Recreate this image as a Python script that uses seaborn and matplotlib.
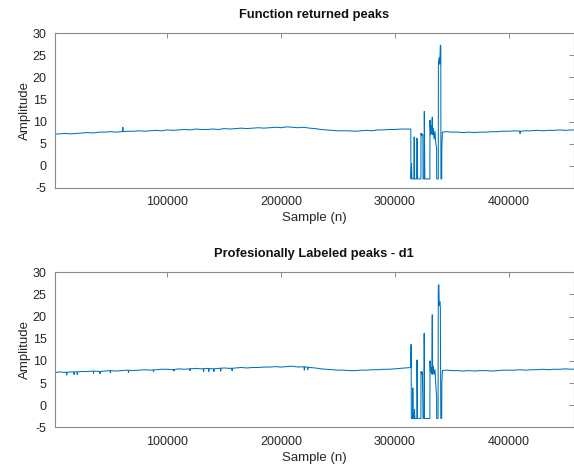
import numpy as np
import pandas as pd
import matplotlib
matplotlib.use("Agg")
import matplotlib.pyplot as plt
import seaborn as sns

# ---------------- data ----------------
# Baseline grid (sample index) before and after the burst region
pre_samples = np.arange(0, 315000, 5000)          # 0 .. 310000
post_samples = np.arange(345000, 460001, 5000)    # 345000 .. 460000

# Function returned peaks
top_pre = [7.1, 7.2, 7.3, 7.2, 7.3, 7.4, 7.5, 7.4, 7.6, 7.6,
           7.7, 7.6, 7.7, 7.8, 7.8, 7.9, 7.8, 7.9, 8.0, 7.9,
           8.1, 8.0, 8.1, 8.2, 8.1, 8.3, 8.2, 8.2, 8.3, 8.2,
           8.4, 8.3, 8.4, 8.5, 8.4, 8.5, 8.6, 8.5, 8.6, 8.7,
           8.6, 8.8, 8.7, 8.6, 8.7, 8.5, 8.4, 8.2, 8.1, 8.0,
           7.9, 7.9, 7.9, 7.8, 7.9, 8.0, 7.9, 8.1, 8.1, 8.2,
           8.2, 8.3, 8.3]
top_spike_samples = [61000, 410000]
top_spike_values = [8.7, 7.3]
top_burst_samples = [314000, 314200, 314700, 315000, 316700, 316800, 317300, 317400,
                     319100, 319200, 319900, 320000, 322900, 323000, 323500, 324000,
                     324700, 324800, 325800, 325900, 326400, 330800, 330900, 331400,
                     331900, 332400, 332900, 333200, 333800, 334500, 335300, 336000,
                     336700, 336800, 338200, 338300, 339000, 339500, 340000, 340400,
                     340500, 341200, 341300, 341800, 342100]
top_burst = [8.3, -3.0, 0.5, -3.0, -3.0, 6.5, 6.3, -3.0,
             -3.0, 6.2, 6.0, -3.0, -3.0, 7.3, 6.8, 7.2,
             7.0, -3.0, -3.0, 12.3, -3.0, -3.0, 10.3, 7.0,
             9.0, 7.2, 11.0, 7.0, 8.5, 6.0, 7.8, 5.0,
             4.0, -3.0, -3.0, 23.5, 24.5, 23.0, 27.3, 27.0,
             -3.0, -3.0, 4.0, 7.6, 7.6]
top_post = [7.7, 7.6, 7.6, 7.5, 7.6, 7.5, 7.6, 7.6, 7.7, 7.7,
            7.8, 7.8, 7.9, 7.8, 7.9, 7.9, 8.0, 7.9, 8.0, 8.0,
            8.1, 8.0, 8.1, 8.1]

# Professionally labeled peaks - d1
bot_pre = [7.3, 7.5, 7.4, 7.5, 7.5, 7.6, 7.6, 7.7, 7.6, 7.7,
           7.8, 7.7, 7.8, 7.9, 7.8, 7.9, 8.0, 7.9, 8.0, 8.1,
           8.1, 8.0, 8.2, 8.1, 8.2, 8.3, 8.2, 8.3, 8.2, 8.3,
           8.4, 8.3, 8.4, 8.5, 8.4, 8.5, 8.5, 8.6, 8.6, 8.7,
           8.6, 8.7, 8.8, 8.6, 8.7, 8.5, 8.4, 8.2, 8.1, 8.0,
           7.9, 7.9, 7.8, 7.8, 7.9, 7.9, 8.0, 8.0, 8.1, 8.1,
           8.2, 8.3, 8.4]
bot_spike_samples = [1400, 11700, 18200, 21000, 35200, 41000, 50000, 66000,
                     88000, 106000, 120000, 132000, 136500, 141000, 147000,
                     157000, 220500, 223500]
bot_spike_values = [6.6, 6.8, 6.9, 6.9, 7.2, 7.1, 7.3, 7.4,
                    7.6, 7.7, 7.8, 7.6, 7.6, 7.6, 7.7,
                    7.8, 7.9, 8.0]
bot_burst_samples = [314000, 314300, 314500, 315500, 315800, 316200, 317000, 317300,
                     317600, 319400, 319500, 319900, 322900, 323000, 323600, 324200,
                     324800, 325700, 325800, 326100, 330800, 330900, 331400, 331900,
                     332500, 332900, 333200, 333800, 334500, 335300, 336000, 336700,
                     336800, 338000, 338200, 338700, 339000, 339600, 340000, 340400,
                     341200, 341300, 341800, 342100]
bot_burst = [8.5, 13.7, -3.0, -3.0, 3.9, -3.0, -3.0, -1.0,
             -3.0, -3.0, 10.2, -3.0, -3.0, 7.6, 7.0, 7.5,
             -3.0, -3.0, 16.2, -3.0, -3.0, 10.0, 7.5, 8.5,
             7.0, 20.4, 7.0, 8.8, 7.0, 8.0, 4.5, 2.0,
             -3.0, -3.0, 26.9, 27.2, 22.5, 23.4, 22.0, -3.0,
             -3.0, 5.0, 7.8, 7.8]
bot_post = [7.9, 7.8, 7.8, 7.7, 7.8, 7.7, 7.8, 7.8, 7.7, 7.8,
            7.9, 7.9, 7.9, 8.0, 7.9, 8.0, 8.0, 8.1, 8.0, 8.1,
            8.1, 8.2, 8.1, 8.2]

y_ticks = [-5, 0, 5, 10, 15, 20, 25, 30]
x_ticks = [100000, 200000, 300000, 400000]
titles = ["Function returned peaks", "Profesionally Labeled peaks - d1"]


def build_frame(pre, burst_s, burst_v, post, spike_s, spike_v):
    s = list(pre_samples) + list(burst_s) + list(post_samples)
    v = list(pre) + list(burst_v) + list(post)
    base_s = np.array(s, dtype=float)
    base_v = np.array(v, dtype=float)
    extra = []
    for ps, pv in zip(spike_s, spike_v):
        # narrow one-sample excursion from the local base level
        base = float(np.interp(ps, base_s, base_v))
        extra += [(ps - 400, base), (ps, pv), (ps + 400, base)]
    df = pd.DataFrame({"Sample": s, "Amplitude": v})
    df = pd.concat([df, pd.DataFrame(extra, columns=["Sample", "Amplitude"])])
    return df.sort_values("Sample", kind="stable").reset_index(drop=True)


frames = [
    build_frame(top_pre, top_burst_samples, top_burst, top_post,
                top_spike_samples, top_spike_values),
    build_frame(bot_pre, bot_burst_samples, bot_burst, bot_post,
                bot_spike_samples, bot_spike_values),
]

# ---------------- style ----------------
sns.set_style("white")
plt.rcParams["font.family"] = ["Liberation Sans", "DejaVu Sans"]

fig = plt.figure(figsize=(5.74, 4.65), dpi=100)
axes_rects = [
    [55 / 574, 0.5963, 518.5 / 574, 0.3321],
    [55 / 574, 0.0811, 518.5 / 574, 0.3333],
]

for rect, df, title in zip(axes_rects, frames, titles):
    ax = fig.add_axes(rect)
    sns.lineplot(data=df, x="Sample", y="Amplitude", ax=ax, color="#0072BD",
                 linewidth=0.75, estimator=None, sort=False)
    ax.set_xlim(1400, 457000)
    ax.set_ylim(-5, 30)
    ax.set_xticks(x_ticks)
    ax.set_yticks(y_ticks)
    ax.set_xticklabels([str(t) for t in x_ticks])
    ax.set_yticklabels([str(t) for t in y_ticks])
    ax.tick_params(direction="in", top=True, right=True, length=3.5, width=0.6,
                   colors="#262626", labelsize=9, pad=6, color="#777777")
    for sp in ax.spines.values():
        sp.set_visible(True)
        sp.set_color("#8a8a8a")
        sp.set_linewidth(0.8)
    ax.set_xlabel("Sample (n)", fontsize=9.5, color="#262626", labelpad=3)
    ax.set_ylabel("Amplitude", fontsize=9.5, color="#262626", labelpad=1.5)
    ax.set_title(title, fontsize=9.3, fontweight="bold", color="#111111", pad=11)

fig.savefig("out.png", dpi=100)
